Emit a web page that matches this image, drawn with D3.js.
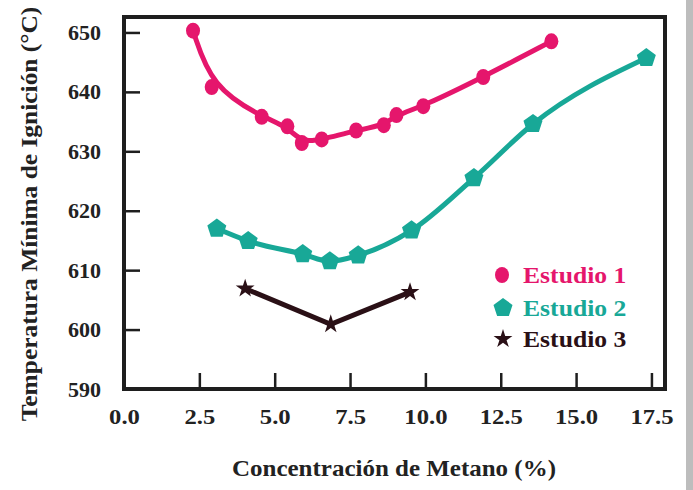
<!DOCTYPE html>
<html>
<head>
<meta charset="utf-8">
<script src="https://cdn.jsdelivr.net/npm/d3@7"></script>
<style>
  html, body { margin: 0; padding: 0; background: #fff; }
  svg { display: block; }
</style>
</head>
<body>
<svg id="chart" width="693" height="490"></svg>
<script>
// ---- Data ----
const xTicks = [0, 2.5, 5, 7.5, 10, 12.5, 15, 17.5];
const yTicks = [590, 600, 610, 620, 630, 640, 650];

const estudio1X = [2.29, 2.91, 4.57, 5.42, 5.90, 6.56, 7.70, 8.62, 9.04, 9.93, 11.92, 14.18];
const estudio1Y = [650.3, 640.8, 635.8, 634.2, 631.4, 632.0, 633.5, 634.4, 636.1, 637.6, 642.5, 648.5];

const estudio2X = [3.08, 4.12, 5.93, 6.83, 7.77, 9.54, 11.61, 13.57, 17.33];
const estudio2Y = [617.0, 614.9, 612.7, 611.5, 612.5, 616.7, 625.5, 634.6, 645.7];

const estudio3X = [4.02, 6.86, 9.49];
const estudio3Y = [606.9, 600.9, 606.3];

const seriesNames = ["Estudio 1", "Estudio 2", "Estudio 3"];
const seriesColors = ["#e5166c", "#18a897", "#2a1016"];

const xTitle = "Concentración de Metano (%)";
const yTitle = "Temperatura Mínima de Ignición (°C)";

// ---- Chart ----
const FONT = "'Liberation Serif', 'DejaVu Serif', serif";
const svg = d3.select("#chart");
const mLeft = 124, mRight = 665, mTop = 17, mBottom = 389;

const x = d3.scaleLinear().domain([0, 17.95]).range([mLeft, mRight]);
const y = d3.scaleLinear().domain([590, 652.6]).range([mBottom, mTop]);

function stretch(sel, factor) {
  sel.each(function () {
    const w = this.getComputedTextLength();
    d3.select(this).attr("textLength", w * factor).attr("lengthAdjust", "spacingAndGlyphs");
  });
}

// gray scanned edge on the right
svg.append("rect").attr("x", 686).attr("y", 0).attr("width", 7).attr("height", 490).attr("fill", "#bdbdbd");

const axisColor = "#1e1e1e";

const xAxis = d3.axisBottom(x).tickValues(xTicks).tickFormat(d3.format(".1f"))
  .tickSizeInner(-16).tickSizeOuter(0).tickPadding(19);
const gx = svg.append("g").attr("transform", `translate(0,${mBottom})`).call(xAxis)
  .attr("font-family", FONT).attr("font-weight", "bold").attr("font-size", 22);
gx.select(".domain").remove();
gx.selectAll("line").attr("stroke", axisColor).attr("stroke-width", 2.5);
gx.selectAll("text").attr("fill", "#222");
stretch(gx.selectAll("text"), 1.12);

const yAxis = d3.axisLeft(y).tickValues(yTicks).tickFormat(d3.format("d"))
  .tickSizeInner(-16).tickSizeOuter(0).tickPadding(23);
const gy = svg.append("g").attr("transform", `translate(${mLeft},0)`).call(yAxis)
  .attr("font-family", FONT).attr("font-weight", "bold").attr("font-size", 22);
gy.select(".domain").remove();
gy.selectAll("line").attr("stroke", axisColor).attr("stroke-width", 2.5);
gy.selectAll("text").attr("fill", "#222");

// frame
svg.append("rect").attr("x", mLeft).attr("y", mTop).attr("width", mRight - mLeft).attr("height", mBottom - mTop)
  .attr("fill", "none").attr("stroke", axisColor).attr("stroke-width", 4);

// axis titles
const xt = svg.append("text").attr("x", 394).attr("y", 476).attr("text-anchor", "middle")
  .attr("font-family", FONT).attr("font-weight", "bold")
  .attr("font-size", 22.5).attr("fill", "#222").text(xTitle);
stretch(xt, 1.11);
const yt = svg.append("text").attr("transform", "translate(37,214) rotate(-90)").attr("text-anchor", "middle")
  .attr("font-family", FONT).attr("font-weight", "bold")
  .attr("font-size", 22.5).attr("fill", "#222").text(yTitle);
stretch(yt, 1.13);

// series
function pts(xs, ys) { return xs.map((v, i) => [v, ys[i]]); }
const s1 = pts(estudio1X, estudio1Y), s2 = pts(estudio2X, estudio2Y), s3 = pts(estudio3X, estudio3Y);

const lineBasis = d3.line().x(d => x(d[0])).y(d => y(d[1])).curve(d3.curveBasis);
const lineMono = d3.line().x(d => x(d[0])).y(d => y(d[1])).curve(d3.curveMonotoneX);
const lineLin = d3.line().x(d => x(d[0])).y(d => y(d[1]));

svg.append("path").attr("d", lineBasis(s1)).attr("fill", "none").attr("stroke", seriesColors[0]).attr("stroke-width", 5).attr("stroke-linecap", "round");
svg.append("path").attr("d", lineMono(s2)).attr("fill", "none").attr("stroke", seriesColors[1]).attr("stroke-width", 5).attr("stroke-linecap", "round");
svg.append("path").attr("d", lineLin(s3)).attr("fill", "none").attr("stroke", seriesColors[2]).attr("stroke-width", 5).attr("stroke-linejoin", "miter");

function pentagon(r) {
  const p = d3.path();
  for (let k = 0; k < 5; k++) {
    const a = -Math.PI / 2 + k * 2 * Math.PI / 5;
    if (k === 0) p.moveTo(r * Math.cos(a), r * Math.sin(a)); else p.lineTo(r * Math.cos(a), r * Math.sin(a));
  }
  p.closePath();
  return p.toString();
}
const starPath = d3.symbol().type(d3.symbolStar).size(110)();

svg.append("g").selectAll("ellipse").data(s1).join("ellipse")
  .attr("cx", d => x(d[0])).attr("cy", d => y(d[1])).attr("rx", 7).attr("ry", 8).attr("fill", seriesColors[0]);
svg.append("g").selectAll("path").data(s2).join("path")
  .attr("transform", d => `translate(${x(d[0])},${y(d[1])})`).attr("d", pentagon(10)).attr("fill", seriesColors[1]);
svg.append("g").selectAll("path").data(s3).join("path")
  .attr("transform", d => `translate(${x(d[0])},${y(d[1])})`).attr("d", starPath).attr("fill", seriesColors[2]);

// legend
const legend = svg.append("g");
const legY = [275, 308, 339];
legend.append("ellipse").attr("cx", 502).attr("cy", legY[0]).attr("rx", 7).attr("ry", 8).attr("fill", seriesColors[0]);
legend.append("path").attr("transform", `translate(503,${legY[1]})`).attr("d", pentagon(10)).attr("fill", seriesColors[1]);
legend.append("path").attr("transform", `translate(503,${legY[2]})`).attr("d", starPath).attr("fill", seriesColors[2]);
seriesNames.forEach((n, i) => {
  const t = legend.append("text").attr("x", 523).attr("y", legY[i] + 8).attr("font-size", 22.5)
    .attr("font-family", FONT).attr("font-weight", "bold")
    .attr("fill", seriesColors[i]).text(n);
  stretch(t, 1.14);
});
</script>
</body>
</html>
